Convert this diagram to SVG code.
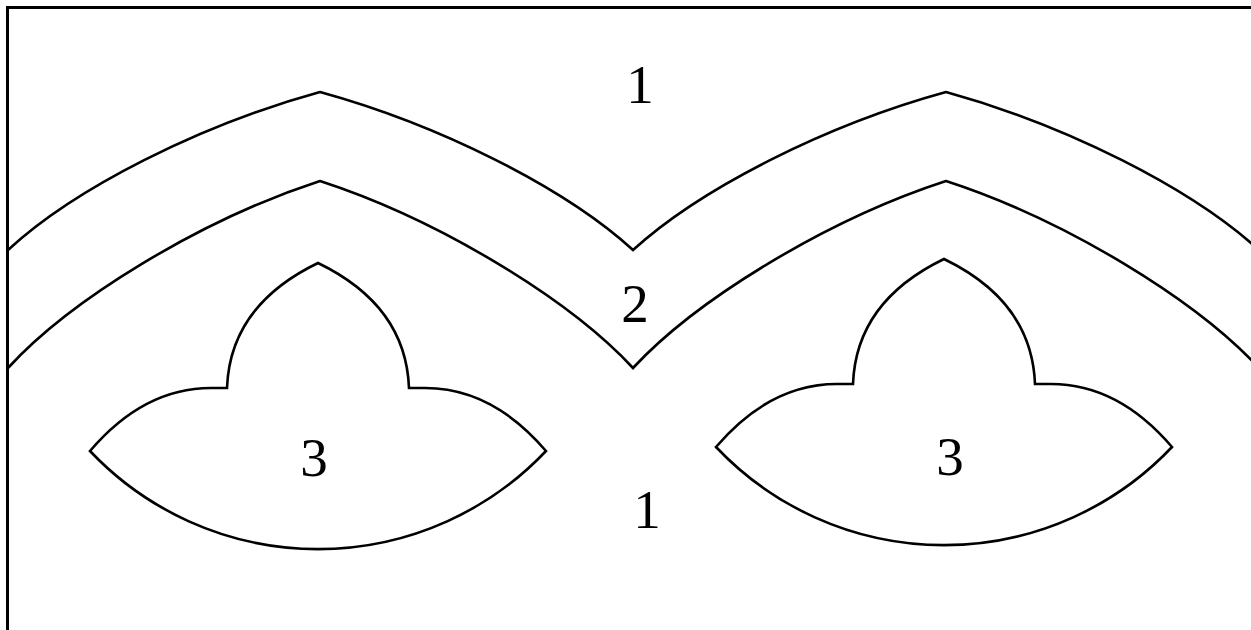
<svg xmlns="http://www.w3.org/2000/svg" xmlns:xlink="http://www.w3.org/1999/xlink" width="1251" height="630" viewBox="0 0 1251 630">
<style>
.ln{fill:none;stroke:#000;stroke-width:2.6;stroke-linejoin:miter}
.frame{fill:none;stroke:#000;stroke-width:3}
.lbl{font-family:"Liberation Serif","Times New Roman",serif;font-size:55px;fill:#000;text-anchor:middle}
</style>
<defs>
<path id="lotus" d="M90,451 C125,410 165,388 211,388 L227,388 C229,335 258,292 318,263 C378,292 407,335 409,388 L425,388 C471,388 511,410 546,451 A314 314 0 0 1 90,451 Z"/>
</defs>
<rect width="1251" height="630" fill="#fff"/>
<g id="frame">
<path class="frame" d="M7.5,630 L7.5,7.5 L1251,7.5"/>
</g>
<g id="bands">
<path id="upper-arch" class="ln" d="M8,250 C75,188 200,125 320,92 C440,125 565,188 633,250 C701,188 826,125 946,92 C1066,125 1191,188 1259,250"/>
<path id="lower-arch" class="ln" d="M8,368 C70,300 200,220 320,181 C440,220 570,300 633,368 C696,300 826,220 946,181 C1066,220 1196,300 1259,368"/>
</g>
<g id="lotus-left">
<use xlink:href="#lotus" class="ln"/>
</g>
<g id="lotus-right">
<use xlink:href="#lotus" class="ln" transform="translate(626,-4)"/>
</g>
<g id="labels">
<text class="lbl" x="640" y="103">1</text>
<text class="lbl" x="635" y="322">2</text>
<text class="lbl" x="314" y="476">3</text>
<text class="lbl" x="950" y="475">3</text>
<text class="lbl" x="647" y="528">1</text>
</g>
</svg>
